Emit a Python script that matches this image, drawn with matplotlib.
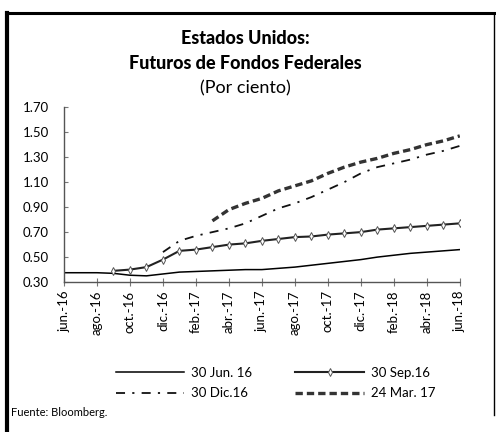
import matplotlib
matplotlib.use("Agg")
import matplotlib.pyplot as plt
from matplotlib.lines import Line2D
import numpy as np

plt.rcParams['font.family'] = ['Lato', 'DejaVu Sans']

meses = ['jun.-16', 'jul.-16', 'ago.-16', 'sep.-16', 'oct.-16', 'nov.-16',
         'dic.-16', 'ene.-17', 'feb.-17', 'mar.-17', 'abr.-17', 'may.-17',
         'jun.-17', 'jul.-17', 'ago.-17', 'sep.-17', 'oct.-17', 'nov.-17',
         'dic.-17', 'ene.-18', 'feb.-18', 'mar.-18', 'abr.-18', 'may.-18',
         'jun.-18']

# curvas de futuros por fecha de observacion (desde el mes en que empiezan)
jun16 = [0.375, 0.375, 0.375, 0.37, 0.355, 0.35, 0.365, 0.38, 0.385, 0.39,
         0.395, 0.40, 0.40, 0.41, 0.42, 0.435, 0.45, 0.465, 0.48, 0.50,
         0.515, 0.53, 0.54, 0.55, 0.56]
sep16 = [0.39, 0.40, 0.42, 0.48, 0.55, 0.56, 0.58, 0.60, 0.61, 0.63, 0.645,
         0.66, 0.665, 0.68, 0.69, 0.70, 0.72, 0.73, 0.74, 0.75, 0.76, 0.77]
dic16 = [0.54, 0.63, 0.67, 0.70, 0.73, 0.77, 0.83, 0.89, 0.93, 0.98, 1.04,
         1.10, 1.17, 1.22, 1.25, 1.28, 1.32, 1.35, 1.39]
mar17 = [0.79, 0.88, 0.93, 0.97, 1.03, 1.07, 1.11, 1.17, 1.22, 1.26, 1.29,
         1.33, 1.36, 1.40, 1.43, 1.47]

n = len(meses)
x = np.arange(n)

fig = plt.figure(figsize=(4.96, 4.32), dpi=100)
ax = fig.add_axes([0.129, 0.347, 0.798, 0.405])

l1, = ax.plot(x[n - len(jun16):], jun16, color='black', lw=1.1,
              label='30 Jun. 16')
l2, = ax.plot(x[n - len(sep16):], sep16, color='#222222', lw=1.5, marker='d',
              markersize=4, markerfacecolor='white', markeredgecolor='#555555',
              markeredgewidth=0.7, label='30 Sep.16')
l3, = ax.plot(x[n - len(dic16):], dic16, color='#111111', lw=1.3,
              dashes=(5, 4, 1.2, 4), label='30 Dic.16')
l4, = ax.plot(x[n - len(mar17):], mar17, color='#333333', lw=2.4,
              dashes=(2.2, 1.2), label='24 Mar. 17')

ax.set_xlim(0, n - 1)
ax.set_ylim(0.30, 1.70)
ax.set_yticks(np.arange(0.30, 1.71, 0.20))
ax.set_yticklabels(['%.2f' % v for v in np.arange(0.30, 1.71, 0.20)], fontsize=9.5)
ax.set_xticks(x[::2])
ax.set_xticklabels(meses[::2], rotation=90, fontsize=9.5)
ax.tick_params(axis='x', direction='inout', length=6, color='#777777', pad=3)
ax.tick_params(axis='y', direction='in', length=3, color='#777777', pad=11)

for s in ['top', 'right']:
    ax.spines[s].set_visible(False)
for s in ['left', 'bottom']:
    ax.spines[s].set_linestyle((0, (1, 1)))
    ax.spines[s].set_color('#555555')
    ax.spines[s].set_linewidth(1.0)

fig.text(0.495, 0.912, 'Estados Unidos:', ha='center', va='center',
         fontsize=13, fontweight='black')
fig.text(0.495, 0.852, 'Futuros de Fondos Federales', ha='center',
         va='center', fontsize=13, fontweight='black')
fig.text(0.495, 0.795, '(Por ciento)', ha='center', va='center', fontsize=13)

fig.legend([l1, l3, l2, l4], ['30 Jun. 16', '30 Dic.16', '30 Sep.16', '24 Mar. 17'],
           loc='center', bbox_to_anchor=(0.555, 0.113), ncol=2, frameon=False,
           fontsize=9.5, handlelength=5.2, columnspacing=3.3,
           labelspacing=0.65, handletextpad=0.5)

fig.text(0.022, 0.044, 'Fuente: Bloomberg.', fontsize=8, va='center')

# marco de la figura
fig.add_artist(Line2D([0.015, 0.015], [0.0, 0.97], color='black', lw=3,
                      transform=fig.transFigure))
fig.add_artist(Line2D([0.015, 0.998], [0.97, 0.97], color='black', lw=2.2,
                      transform=fig.transFigure))
fig.add_artist(Line2D([0.996, 0.996], [0.04, 0.97], color='black', lw=1,
                      transform=fig.transFigure))

fig.savefig('out.png', dpi=100)
